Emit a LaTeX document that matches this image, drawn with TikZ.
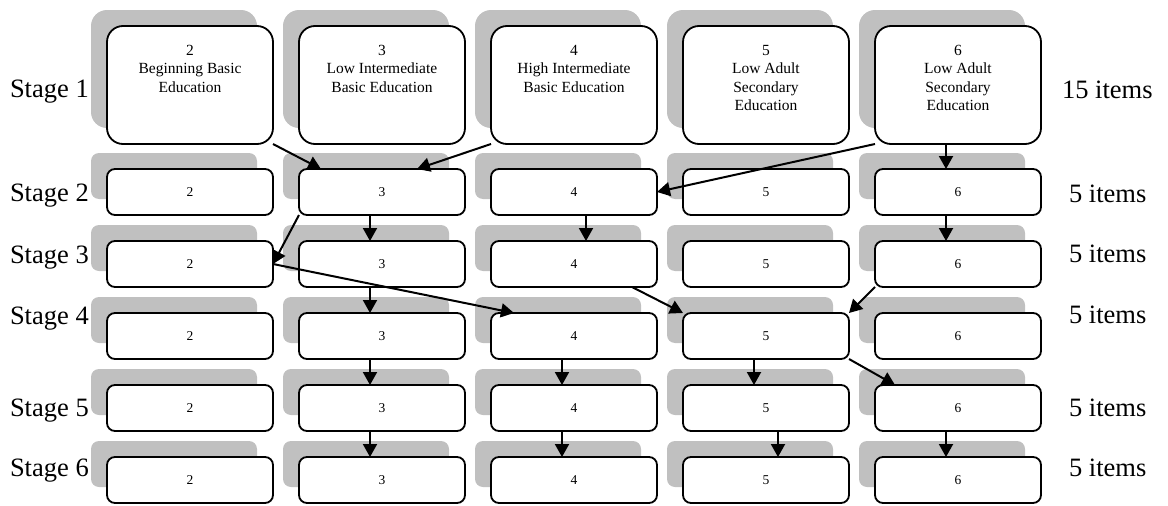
\documentclass[tikz,border=0pt]{standalone}
\usepackage{fontspec}
\setmainfont{Liberation Serif}
\usetikzlibrary{arrows.meta,shadows}
\definecolor{shadegray}{RGB}{192,192,192}
\begin{document}
\begin{tikzpicture}[x=1pt,y=-1pt,
    every node/.style={inner sep=0pt,outer sep=0pt},
    card/.style={draw,line width=1.8pt,fill=white,minimum width=166pt,
        general shadow={fill=shadegray,shadow xshift=-16pt,shadow yshift=16pt}},
    bigcard/.style={card,rounded corners=16pt,align=center,
        font=\fontsize{15.5}{18.5}\selectfont},
    bigthree/.style={bigcard,text height=66pt,text depth=52pt},
    bigfour/.style={bigcard,text height=84.5pt,text depth=33.5pt},
    smallcard/.style={card,rounded corners=8pt,minimum height=46pt,font=\fontsize{13.5}{16}\selectfont},
    stage/.style={anchor=base west,font=\fontsize{26.5}{30}\selectfont},
    arr/.style={line width=2pt,-{Triangle[length=13pt,width=14pt]}}]
  \useasboundingbox (0,0) rectangle (1168,506);
  % stage 1: the five levels
  \node[bigthree,anchor=north] (s1-2) at (190,26) {2\\Beginning Basic\\Education};
  \node[bigthree,anchor=north] (s1-3) at (382,26) {3\\Low Intermediate\\Basic Education};
  \node[bigthree,anchor=north] (s1-4) at (574,26) {4\\High Intermediate\\Basic Education};
  \node[bigfour,anchor=north] (s1-5) at (766,26) {5\\Low Adult\\Secondary\\Education};
  \node[bigfour,anchor=north] (s1-6) at (958,26) {6\\Low Adult\\Secondary\\Education};
  % stages 2--6
  \foreach \r in {2,...,6}
    \foreach \c in {2,...,6}
      \node[smallcard] (s\r-\c) at ({190+192*(\c-2)},{192+72*(\r-2)}) {\c};
  % labels left and right
  \node[stage] (st1) at (10,97)  {Stage 1};
  \node[stage] (st2) at (10,201) {Stage 2};
  \node[stage] (st3) at (10,263) {Stage 3};
  \node[stage] (st4) at (10,324) {Stage 4};
  \node[stage] (st5) at (10,416) {Stage 5};
  \node[stage] (st6) at (10,476) {Stage 6};
  \node[stage] (it1) at (1062,98)  {15 items};
  \node[stage] (it2) at (1069,202) {5 items};
  \node[stage] (it3) at (1069,262) {5 items};
  \node[stage] (it4) at (1069,323) {5 items};
  \node[stage] (it5) at (1069,416) {5 items};
  \node[stage] (it6) at (1069,476) {5 items};
  % routes
  \draw[arr] (s1-2.south east) -- ([xshift=22pt]s2-3.north west);
  \draw[arr] (s1-4.south west) -- ([xshift=-48pt]s2-3.north east);
  \draw[arr] (s1-6.south west) -- (s2-4.east);
  \draw[arr] ([xshift=-12pt]s1-6.south) -- ([xshift=-12pt]s2-6.north);
  \draw[arr] (s2-3.south west) -- (s3-2.east);
  \draw[arr] ([xshift=-12pt]s2-3.south) -- ([xshift=-12pt]s3-3.north);
  \draw[arr] ([xshift=12pt]s2-4.south) -- ([xshift=12pt]s3-4.north);
  \draw[arr] ([xshift=-12pt]s2-6.south) -- ([xshift=-12pt]s3-6.north);
  \draw[arr] (s3-2.east) -- ([xshift=23pt]s4-4.north west);
  \draw[arr] ([xshift=-12pt]s3-3.south) -- ([xshift=-12pt]s4-3.north);
  \draw[arr] ([xshift=-25pt]s3-4.south east) -- (s4-5.north west);
  \draw[arr] (s3-6.south west) -- (s4-5.north east);
  \draw[arr] ([xshift=-12pt]s4-3.south) -- ([xshift=-12pt]s5-3.north);
  \draw[arr] ([xshift=-12pt]s4-4.south) -- ([xshift=-12pt]s5-4.north);
  \draw[arr] ([xshift=-12pt]s4-5.south) -- ([xshift=-12pt]s5-5.north);
  \draw[arr] (s4-5.south east) -- ([xshift=20pt]s5-6.north west);
  \draw[arr] ([xshift=-12pt]s5-3.south) -- ([xshift=-12pt]s6-3.north);
  \draw[arr] ([xshift=-12pt]s5-4.south) -- ([xshift=-12pt]s6-4.north);
  \draw[arr] ([xshift=12pt]s5-5.south) -- ([xshift=12pt]s6-5.north);
  \draw[arr] ([xshift=-12pt]s5-6.south) -- ([xshift=-12pt]s6-6.north);
\end{tikzpicture}
\end{document}
